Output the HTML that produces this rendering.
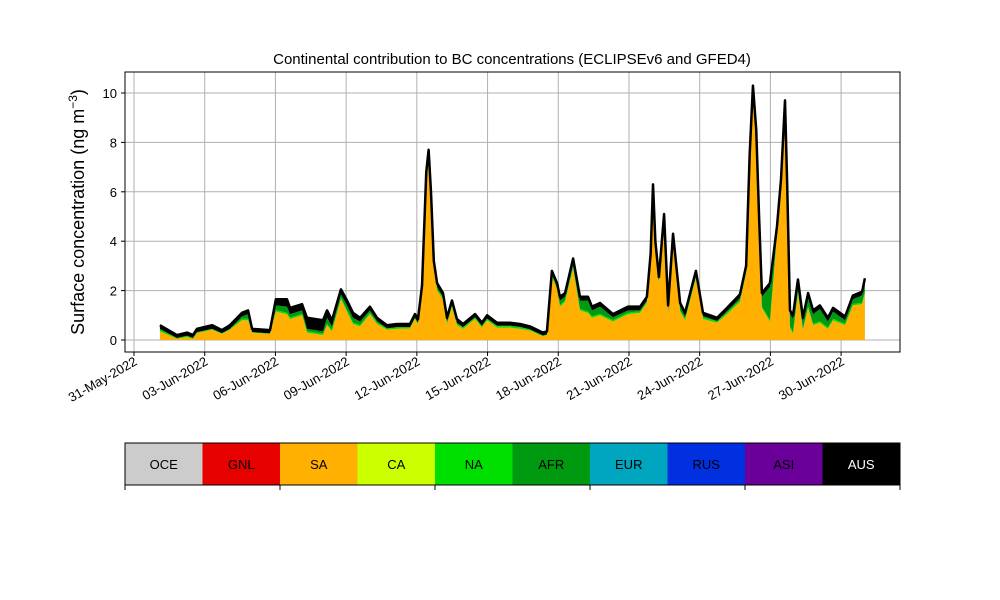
<!DOCTYPE html>
<html><head><meta charset="utf-8"><style>
body{margin:0;background:#fff;}
svg{display:block;font-family:"Liberation Sans","DejaVu Sans",sans-serif;}
</style></head><body>
<svg id="chart" width="1000" height="600" viewBox="0 0 1000 600">
<text x="512" y="64" text-anchor="middle" font-size="15">Continental contribution to BC concentrations (ECLIPSEv6 and GFED4)</text>
<text transform="translate(84,212) rotate(-90)" text-anchor="middle" font-size="18">Surface concentration (ng m<tspan baseline-shift="super" font-size="12">−3</tspan>)</text>
<g id="grid"></g>
<g id="areas"></g>
<rect x="125" y="72" width="775" height="280" fill="none" stroke="#000" stroke-width="1"/>
<g id="axes"></g>
<g id="colorbar"></g>
</svg>
<script>
const times=[1.10,1.82,2.25,2.50,2.67,3.31,3.73,4.07,4.58,4.84,5.01,5.77,6.02,6.49,6.62,7.13,7.34,8.02,8.19,8.40,8.78,9.04,9.29,9.59,10.01,10.31,10.73,11.16,11.71,11.92,12.05,12.22,12.40,12.50,12.60,12.72,12.86,13.11,13.28,13.49,13.70,13.96,14.47,14.76,14.98,15.40,15.95,16.38,16.80,17.35,17.52,17.73,17.95,18.07,18.29,18.63,18.92,19.26,19.43,19.77,20.32,20.96,21.47,21.76,21.92,22.02,22.12,22.27,22.49,22.66,22.87,23.17,23.38,23.84,24.14,24.74,25.16,25.71,25.97,26.12,26.26,26.40,26.52,26.64,26.98,27.28,27.45,27.62,27.72,27.83,27.96,28.17,28.38,28.60,28.81,29.10,29.44,29.66,30.17,30.50,30.89,31.01];
const total=[0.60,0.20,0.30,0.20,0.45,0.60,0.40,0.60,1.10,1.20,0.45,0.40,1.65,1.65,1.30,1.45,0.90,0.80,1.20,0.80,2.05,1.60,1.10,0.90,1.35,0.90,0.60,0.65,0.65,1.05,0.85,2.20,6.80,7.70,6.00,3.20,2.30,1.90,0.90,1.60,0.85,0.65,1.05,0.70,1.00,0.70,0.70,0.65,0.55,0.30,0.35,2.80,2.30,1.75,1.90,3.30,1.75,1.75,1.35,1.50,1.05,1.35,1.35,1.75,3.50,6.30,4.00,2.55,5.10,1.40,4.30,1.50,1.10,2.80,1.10,0.90,1.30,1.85,3.00,7.50,10.30,8.50,5.00,1.90,2.30,4.60,6.50,9.70,6.00,1.20,1.00,2.45,0.90,1.90,1.20,1.40,0.90,1.30,0.95,1.80,1.95,2.50];
const sa=[0.35,0.05,0.12,0.05,0.28,0.42,0.25,0.42,0.80,0.80,0.30,0.25,1.15,1.05,0.85,1.00,0.30,0.20,0.60,0.35,1.65,1.15,0.65,0.55,1.05,0.65,0.42,0.45,0.47,0.85,0.65,1.90,6.40,7.20,5.60,2.90,2.00,1.65,0.65,1.35,0.60,0.45,0.85,0.50,0.80,0.50,0.50,0.45,0.38,0.15,0.20,2.55,2.05,1.35,1.55,2.90,1.20,1.10,0.90,1.00,0.75,1.05,1.10,1.50,3.20,5.80,3.70,2.30,4.70,1.05,3.90,1.15,0.80,2.50,0.85,0.70,1.05,1.55,2.70,7.10,9.90,8.10,4.60,1.30,0.75,4.20,6.10,9.30,5.60,0.50,0.25,1.90,0.40,1.30,0.60,0.70,0.45,0.80,0.60,1.40,1.45,1.90];
const aus=[0.15,0.12,0.13,0.12,0.13,0.15,0.12,0.15,0.15,0.15,0.13,0.13,0.25,0.30,0.25,0.25,0.45,0.45,0.30,0.25,0.20,0.20,0.20,0.15,0.15,0.13,0.13,0.13,0.13,0.15,0.15,0.20,0.25,0.30,0.25,0.20,0.15,0.15,0.15,0.15,0.15,0.13,0.13,0.13,0.13,0.12,0.12,0.12,0.12,0.12,0.12,0.15,0.15,0.15,0.15,0.15,0.15,0.15,0.15,0.15,0.13,0.15,0.15,0.15,0.15,0.20,0.15,0.15,0.20,0.15,0.20,0.15,0.15,0.15,0.13,0.13,0.13,0.15,0.15,0.20,0.25,0.20,0.20,0.15,0.15,0.20,0.20,0.25,0.20,0.15,0.15,0.15,0.15,0.15,0.15,0.15,0.15,0.15,0.15,0.15,0.15,0.15];
const yTicks=[0,2,4,6,8,10];
const xTickDays=[0,3,6,9,12,15,18,21,24,27,30];
const xTickLabels=["31-May-2022","03-Jun-2022","06-Jun-2022","09-Jun-2022","12-Jun-2022","15-Jun-2022","18-Jun-2022","21-Jun-2022","24-Jun-2022","27-Jun-2022","30-Jun-2022"];
const legendNames=["OCE","GNL","SA","CA","NA","AFR","EUR","RUS","ASI","AUS"];
const legendColors=["#cccccc","#e60000","#ffb000","#ccff00","#00e000","#009a10","#00a5c0","#0030e0","#6a0099","#000000"];

const NS="http://www.w3.org/2000/svg";
const X=t=>134+t*23.57;
const Y=v=>340-v*24.7;
function mk(tag,attrs,parent){const e=document.createElementNS(NS,tag);for(const k in attrs)e.setAttribute(k,attrs[k]);parent.appendChild(e);return e;}
const grid=document.getElementById('grid'),axes=document.getElementById('axes'),areas=document.getElementById('areas'),cb=document.getElementById('colorbar');
yTicks.forEach(v=>{
  const l=mk('line',{x1:125,x2:900,y1:Y(v),y2:Y(v),stroke:'#b0b0b0','stroke-width':1},grid);
  
  
  const t=mk('line',{x1:121,x2:125,y1:Y(v),y2:Y(v),stroke:'#000'},axes);
  
  
  const tx=mk('text',{x:117,y:Y(v)+5,'text-anchor':'end','font-size':13},axes);
  tx.textContent=v;
  
  
});
xTickDays.forEach((d,i)=>{
  const x=X(d);
  const l=mk('line',{x1:x,x2:x,y1:72,y2:352,stroke:'#b0b0b0','stroke-width':1},grid);
  
  
  const t=mk('line',{x1:x,x2:x,y1:352,y2:356,stroke:'#000'},axes);
  
  
  const tx=mk('text',{transform:`translate(${x+4},${364}) rotate(-30)`,'text-anchor':'end','font-size':13},axes);
  tx.textContent=xTickLabels[i];
  
  
});
function band(lo,hi,color,name){
  let pts=times.map((t,i)=>X(t)+','+Y(hi[i]));
  for(let i=times.length-1;i>=0;i--)pts.push(X(times[i])+','+Y(lo[i]));
  const p=mk('polygon',{points:pts.join(' '),fill:color},areas);
  
  
}
const zero=times.map(()=>0);
const afrTop=times.map((t,i)=>total[i]-aus[i]);
band(zero,sa,'#ffb000','area-sa');
band(sa,sa.map((v,i)=>Math.min(afrTop[i],v+0.06)),'#00e000','area-na');
band(sa.map((v,i)=>Math.min(afrTop[i],v+0.06)),afrTop,'#009a10','area-afr');
band(afrTop,total,'#000000','area-aus');
const tl=mk('polyline',{points:times.map((t,i)=>X(t)+','+Y(total[i])).join(' '),fill:'none',stroke:'#000','stroke-width':2.5,'stroke-linejoin':'round'},areas);


const w=77.5;
legendNames.forEach((n,i)=>{
  const r=mk('rect',{x:125+i*w,y:443,width:w,height:42,fill:legendColors[i]},cb);
  
  
  const t=mk('text',{x:125+i*w+w/2,y:469,'text-anchor':'middle','font-size':13,fill:n==='AUS'?'#fff':'#000'},cb);
  t.textContent=n;
  
  
});
const fr=mk('rect',{x:125,y:443,width:775,height:42,fill:'none',stroke:'#000'},cb);


for(let k=0;k<=5;k++){
  const t=mk('line',{x1:125+k*155,x2:125+k*155,y1:485,y2:490,stroke:'#000'},cb);
  
  
}
</script>
</body></html>
